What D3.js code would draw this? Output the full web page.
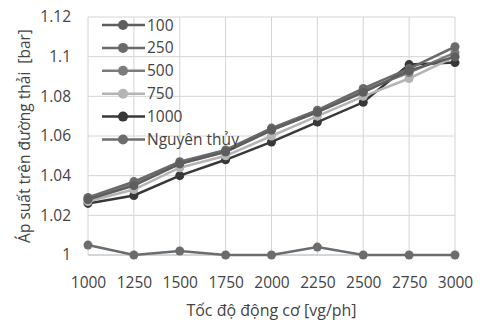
<!DOCTYPE html>
<html><head><meta charset="utf-8">
<script src="https://cdn.jsdelivr.net/npm/d3@7"></script>
<style>body{margin:0;background:#fff}svg{display:block}text{font-family:"Open Sans",sans-serif;fill:#444}</style>
</head><body><svg id="c" width="488" height="323"></svg>
<script>
const speeds = [1000,1250,1500,1750,2000,2250,2500,2750,3000];
const s100  = [1.028,1.035,1.046,1.052,1.063,1.072,1.082,1.093,1.100];
const s250  = [1.029,1.037,1.047,1.053,1.064,1.073,1.084,1.094,1.105];
const s500  = [1.028,1.036,1.046,1.052,1.063,1.072,1.083,1.092,1.102];
const s750  = [1.027,1.033,1.044,1.050,1.060,1.070,1.080,1.089,1.100];
const s1000 = [1.026,1.030,1.040,1.048,1.057,1.067,1.077,1.096,1.097];
const sOrig = [1.005,1.000,1.002,1.000,1.000,1.004,1.000,1.000,1.000];
const seriesNames = ["100","250","500","750","1000","Nguyên thủy"];
const yTicks = [1,1.02,1.04,1.06,1.08,1.1,1.12];
const xTitle = "Tốc độ động cơ [vg/ph]";
const yTitle = "Áp suất trên đường thải  [bar]";

const colors = ["#5e5e5e","#6a6a6a","#7c7c7c","#b4b4b4","#383838","#6c6c6c"];
const allSeries = [s100,s250,s500,s750,s1000,sOrig];

const svg = d3.select("#c");
const L=88,R=455,T=17,B=255;
const x = d3.scaleLinear().domain([1000,3000]).range([L,R]);
const y = d3.scaleLinear().domain([1,1.12]).range([B,T]);

// grid
svg.append("g").selectAll("line").data(yTicks).join("line")
  .attr("x1",L).attr("x2",R).attr("y1",d=>y(d)).attr("y2",d=>y(d))
  .attr("stroke","#d4d4d4").attr("stroke-width",1);
svg.append("g").selectAll("line").data(speeds).join("line")
  .attr("y1",T).attr("y2",B).attr("x1",d=>x(d)).attr("x2",d=>x(d))
  .attr("stroke","#d4d4d4").attr("stroke-width",1);
svg.append("line").attr("x1",L).attr("x2",R).attr("y1",B).attr("y2",B).attr("stroke","#b8c4cc");

// axes labels
const xa = svg.append("g").attr("transform",`translate(0,${B})`)
  .call(d3.axisBottom(x).tickValues(speeds).tickSize(0).tickPadding(22).tickFormat(d3.format("d")));
xa.select(".domain").remove();
xa.selectAll("text").style("font-size","15.5px").attr("fill","#444");
const ya = svg.append("g").attr("transform",`translate(${L},0)`)
  .call(d3.axisLeft(y).tickValues(yTicks).tickSize(0).tickPadding(17).tickFormat(d=>String(+d.toFixed(2))));
ya.select(".domain").remove();
ya.selectAll("text").style("font-size","15.5px").attr("fill","#444");

svg.append("text").attr("x",(L+R)/2).attr("y",316).attr("text-anchor","middle")
  .style("font-size","16px").text(xTitle);
svg.append("text").attr("transform",`translate(30,${(T+B)/2}) rotate(-90)`).attr("text-anchor","middle")
  .style("font-size","15.5px").style("white-space","pre").text(yTitle);

// series
const line = d3.line().x((d,i)=>x(speeds[i])).y(d=>y(d));
const order = [5,4,3,2,1,0];
order.forEach(k=>{
  const g = svg.append("g");
  g.append("path").datum(allSeries[k]).attr("d",line).attr("fill","none")
    .attr("stroke",colors[k]).attr("stroke-width",2.5);
  g.selectAll("circle").data(allSeries[k]).join("circle")
    .attr("cx",(d,i)=>x(speeds[i])).attr("cy",d=>y(d)).attr("r",4.5).attr("fill",colors[k]);
});

// legend
const lg = svg.append("g");
seriesNames.forEach((n,i)=>{
  const yy = 25 + i*22.9;
  lg.append("line").attr("x1",102).attr("x2",145).attr("y1",yy).attr("y2",yy)
    .attr("stroke",colors[i]).attr("stroke-width",2.5);
  lg.append("circle").attr("cx",123).attr("cy",yy).attr("r",5).attr("fill",colors[i]);
  lg.append("text").attr("x",147).attr("y",yy+5.5).style("font-size","15.5px").text(n);
});
</script></body></html>
